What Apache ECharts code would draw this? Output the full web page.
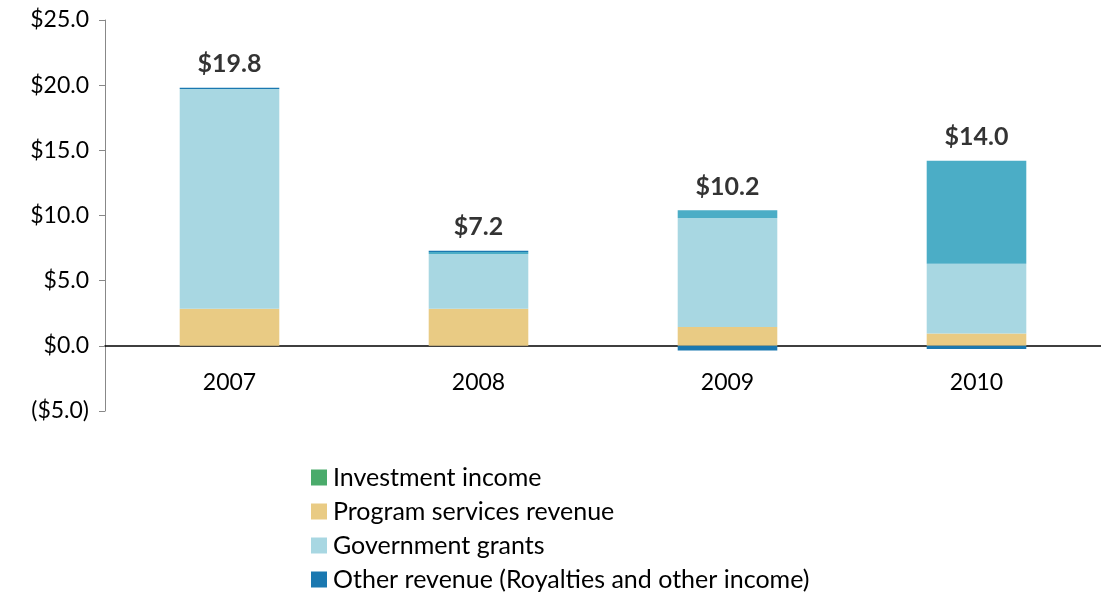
<!DOCTYPE html>
<html>
<head>
<meta charset="utf-8">
<script src="https://cdn.jsdelivr.net/npm/echarts@6/dist/echarts.min.js"></script>
<style>
  html, body { margin: 0; padding: 0; background: #fff; }
  #main { width: 1101px; height: 596px; }
</style>
</head>
<body>
<div id="main"></div>
<script>
// data ($ millions)
var years = ['2007', '2008', '2009', '2010'];
var investment = [0, 0, 0, 0];
var program = [2.85, 2.85, 1.45, 0.95];
var grants = [16.85, 4.2, 8.35, 5.35];
var contributions = [0, 0.15, 0.6, 7.9];
var other = [0.1, 0.1, -0.35, -0.25];
var totals = [19.8, 7.2, 10.2, 14.0];

var font = 'Lato, "Open Sans", sans-serif';

function money(v) {
    var s = '$' + Math.abs(v).toFixed(1);
    return v < 0 ? '(' + s + ')' : s;
}

// top of positive stack, so the total label sits on the bar
var tops = years.map(function (y, i) {
    return [investment, program, grants, contributions, other].reduce(function (s, arr) {
        return s + (arr[i] > 0 ? arr[i] : 0);
    }, 0);
});

var myChart = echarts.init(document.getElementById('main'));
var option = {
    animation: false,
    textStyle: { fontFamily: font },
    grid: { left: 105, right: 0, top: 20, bottom: 185 },
    legend: {
        orient: 'vertical',
        left: 311,
        top: 465,
        width: 700,
        height: 200,
        padding: 0,
        itemWidth: 16,
        itemHeight: 16,
        itemGap: 9,
        icon: 'rect',
        textStyle: { fontSize: 25, color: '#000', fontFamily: font, padding: [0, 0, 0, 1] },
        data: ['Investment income', 'Program services revenue', 'Government grants',
               'Other revenue (Royalties and other income)']
    },
    xAxis: {
        type: 'category',
        data: years,
        axisLine: { onZero: true, lineStyle: { color: '#000', width: 1.5 } },
        axisTick: { show: false },
        axisLabel: { fontSize: 23, color: '#000', margin: -40 }
    },
    yAxis: {
        type: 'value',
        min: -5, max: 25, interval: 5,
        axisLine: { show: true, lineStyle: { color: '#888' } },
        axisTick: { show: true, inside: false, length: 6, lineStyle: { color: '#888' } },
        splitLine: { show: false },
        axisLabel: {
            fontSize: 23, color: '#000', margin: 16,
            formatter: function (v) { return money(v); }
        }
    },
    series: [
        { name: 'Investment income', type: 'bar', stack: 'rev', barWidth: '40%',
          itemStyle: { color: '#4aab6b' }, data: investment },
        { name: 'Program services revenue', type: 'bar', stack: 'rev',
          itemStyle: { color: '#e9cb84' }, data: program },
        { name: 'Government grants', type: 'bar', stack: 'rev',
          itemStyle: { color: '#a8d7e2' }, data: grants },
        { name: 'Contributions', type: 'bar', stack: 'rev',
          itemStyle: { color: '#4badc6' }, data: contributions },
        { name: 'Other revenue (Royalties and other income)', type: 'bar', stack: 'rev',
          itemStyle: { color: '#1a78b0' }, data: other },
        {
            name: 'total', type: 'scatter', symbolSize: 0, silent: true,
            data: tops.map(function (t, i) { return [i, t]; }),
            label: {
                show: true, position: 'top', distance: 11,
                fontSize: 25, fontWeight: 'bold', color: '#000', fontFamily: font,
                formatter: function (p) { return money(totals[p.dataIndex]); }
            }
        }
    ]
};
myChart.setOption(option);
</script>
</body>
</html>
